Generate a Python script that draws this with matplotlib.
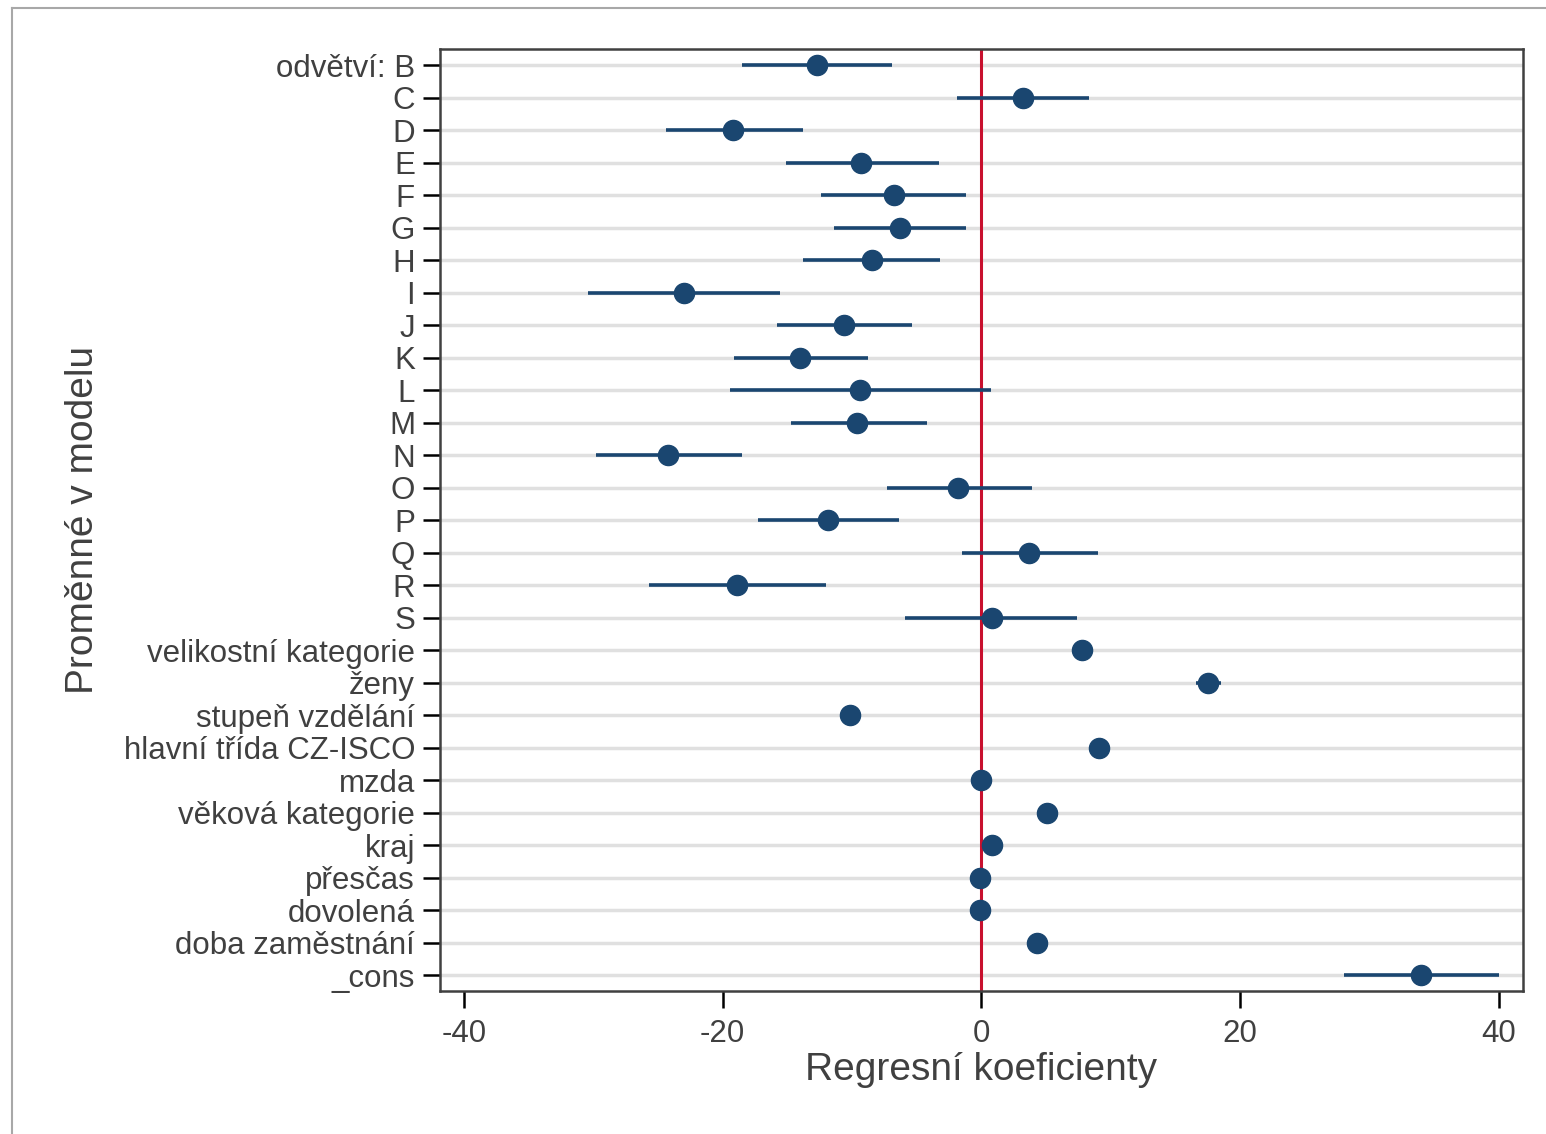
#!/usr/bin/env python3
import numpy as np
import matplotlib
matplotlib.use("Agg")
import matplotlib.pyplot as plt
from matplotlib.lines import Line2D

plt.rcParams["font.family"] = ["Liberation Sans", "DejaVu Sans"]

# ---------------- data ----------------
labels = [
    "odvětví: B", "C", "D", "E", "F", "G", "H", "I", "J", "K", "L", "M", "N",
    "O", "P", "Q", "R", "S",
    "velikostní kategorie", "ženy", "stupeň vzdělání", "hlavní třída CZ-ISCO",
    "mzda", "věková kategorie", "kraj", "přesčas", "dovolená",
    "doba zaměstnání", "_cons",
]
coef = [
    -12.7, 3.2, -19.2, -9.3, -6.8, -6.3, -8.5, -23.0, -10.6, -14.0, -9.4, -9.6,
    -24.2, -1.8, -11.9, 3.7, -18.9, 0.8,
    7.8, 17.5, -10.2, 9.1, 0.0, 5.1, 0.85, -0.1, -0.15, 4.3, 34.0,
]
ci_low = [
    -18.5, -1.9, -24.4, -15.1, -12.4, -11.4, -13.8, -30.4, -15.8, -19.1, -19.4,
    -14.7, -29.8, -7.3, -17.3, -1.5, -25.7, -5.9,
    7.4, 16.6, -10.6, 8.7, -0.05, 4.8, 0.6, -0.3, -0.35, 4.0, 28.0,
]
ci_high = [
    -6.9, 8.3, -13.8, -3.3, -1.2, -1.2, -3.2, -15.6, -5.4, -8.8, 0.7, -4.2,
    -18.5, 3.9, -6.4, 9.0, -12.0, 7.4,
    8.2, 18.5, -9.8, 9.5, 0.05, 5.4, 1.1, 0.1, 0.05, 4.6, 40.0,
]
xticks = [-40, -20, 0, 20, 40]

navy = "#1a4670"
txt = "#404040"

# ---------------- figure ----------------
fig = plt.figure(figsize=(15.46, 11.34), dpi=100)
ax = fig.add_axes([440 / 1546, 1 - 991 / 1134, 1083 / 1546, 942 / 1134])

y = np.arange(1, len(labels) + 1)
for yi in y:
    ax.axhline(yi, color="#e0e0e0", lw=2.5, zorder=0)

ax.axvline(0, color="#c8102e", lw=2.2, zorder=1)
ax.hlines(y, ci_low, ci_high, color=navy, lw=2.6, zorder=2)
ax.plot(coef, y, "o", color=navy, ms=14.5, zorder=3)

ax.set_xlim(-41.85, 41.85)
ax.set_ylim(len(labels) + 0.48, 0.5)
ax.set_yticks(y)
ax.set_yticklabels(labels)
ax.set_xticks(xticks)
ax.set_xticklabels([str(v) for v in xticks])

ax.tick_params(axis="both", length=12, width=1.8, color="black",
               labelsize=22.5, labelcolor=txt, pad=6)
ax.tick_params(axis="x", pad=8)
for s in ax.spines.values():
    s.set_color(txt)
    s.set_linewidth(1.8)

ax.set_xlabel("Regresní koeficienty", fontsize=28, color=txt, labelpad=2)
ax.set_ylabel("Proměnné v modelu", fontsize=28, color=txt, labelpad=16)

# outer frame (left + top)
fig.add_artist(Line2D([12 / 1546, 12 / 1546], [0, 1 - 8 / 1134],
                      transform=fig.transFigure, color="#a8a8a8", lw=1.5))
fig.add_artist(Line2D([12 / 1546, 1], [1 - 8 / 1134, 1 - 8 / 1134],
                      transform=fig.transFigure, color="#a8a8a8", lw=1.5))

fig.savefig("out.png", dpi=100)
